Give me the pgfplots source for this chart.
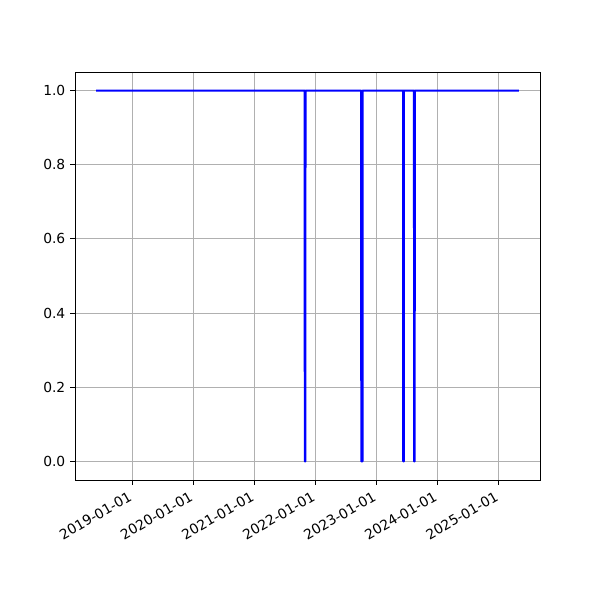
\documentclass[border=0pt]{standalone}
\usepackage{pgfplots}
\pgfplotsset{compat=1.18}
\usepackage{fontspec}
\setmainfont{DejaVu Sans}
\begin{document}
\begin{tikzpicture}[x=1in,y=1in]
\path[use as bounding box] (-0.75,-1.2) rectangle (5.25,4.8);
\begin{axis}[
  at={(0,0)}, anchor=south west,
  scale only axis, width=4.65in, height=4.08in,
  xmin=-343, xmax=2439, ymin=-0.05, ymax=1.05,
  xtick={0,365,731,1096,1461,1826,2192},
  xticklabels={2019-01-01,2020-01-01,2021-01-01,2022-01-01,2023-01-01,2024-01-01,2025-01-01},
  xticklabel style={rotate=30, anchor=north east, font=\fontsize{10}{12}\selectfont, inner sep=1pt, xshift=-4pt, yshift=-1pt},
  ytick={0,0.2,0.4,0.6,0.8,1.0},
  yticklabel style={font=\fontsize{10}{12}\selectfont},
  /pgf/number format/assume math mode=true,
  yticklabel={\pgfmathprintnumber[fixed,precision=1,fixed zerofill]{\tick}},
  tick align=outside, major tick length=3.5pt,
  tick style={black, line width=0.8pt},
  xtick pos=bottom, ytick pos=left,
  grid=major, grid style={color=black!31, line width=0.8pt},
  axis line style={line width=0.6pt},
  clip=true,
]
\addplot[blue, line width=1.5pt, line join=round, line cap=butt] coordinates {
(-217,1) (1031,1) (1032,0) (1035,0) (1036,1)
(1369,1) (1370,0) (1377,0) (1378,1)
(1620,1) (1621,0) (1624,0) (1625,1)
(1685,1) (1686,0) (1689,0) (1690,1)
(2313,1)
};
\end{axis}
\end{tikzpicture}
\end{document}
